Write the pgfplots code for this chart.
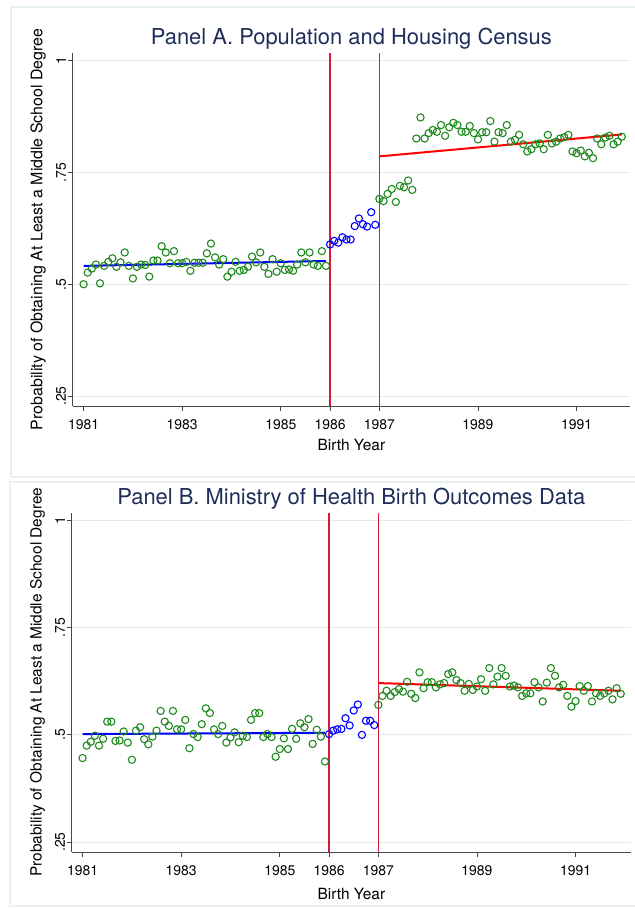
\documentclass[border=0pt]{standalone}
\usepackage{fontspec}
\setmainfont{TeX Gyre Heros}
\setsansfont{TeX Gyre Heros}
\usepackage{pgfplots}
\usepackage{pgfplotstable}
\pgfplotsset{compat=1.18}
\definecolor{sgreen}{RGB}{30,138,30}
\definecolor{vline}{RGB}{215,25,60}
\definecolor{ttl}{RGB}{30,45,90}
\definecolor{gridc}{RGB}{226,236,239}
\definecolor{framec}{RGB}{230,239,242}
\definecolor{axc}{RGB}{70,70,70}

% Panel A data (k = months since Jan 1981)
\pgfplotstableread{
k v
0 0.500
1 0.526
2 0.535
3 0.544
4 0.502
5 0.541
6 0.550
7 0.558
8 0.539
9 0.549
10 0.571
11 0.541
12 0.513
13 0.539
14 0.544
15 0.543
16 0.517
17 0.553
18 0.553
19 0.585
20 0.571
21 0.547
22 0.574
23 0.547
24 0.547
25 0.550
26 0.530
27 0.548
28 0.548
29 0.548
30 0.569
31 0.591
32 0.560
33 0.544
34 0.556
35 0.517
36 0.528
37 0.550
38 0.530
39 0.532
40 0.539
41 0.562
42 0.549
43 0.571
44 0.539
45 0.523
46 0.556
47 0.528
48 0.547
49 0.532
50 0.533
51 0.530
52 0.544
53 0.571
54 0.549
55 0.571
56 0.544
57 0.541
58 0.574
59 0.541
}\Apre
\pgfplotstableread{
k v
60 0.589
61 0.597
62 0.593
63 0.605
64 0.600
65 0.600
66 0.630
67 0.647
68 0.634
69 0.629
70 0.661
71 0.633
}\Amid
\pgfplotstableread{
k v
72 0.691
73 0.686
74 0.702
75 0.713
76 0.684
77 0.720
78 0.717
79 0.732
80 0.711
81 0.826
82 0.873
83 0.826
84 0.838
85 0.845
86 0.841
87 0.856
88 0.832
89 0.851
90 0.861
91 0.856
92 0.841
93 0.841
94 0.854
95 0.838
96 0.824
97 0.840
98 0.840
99 0.865
100 0.819
101 0.840
102 0.838
103 0.856
104 0.819
105 0.823
106 0.834
107 0.813
108 0.797
109 0.802
110 0.813
111 0.815
112 0.802
113 0.834
114 0.815
115 0.819
116 0.826
117 0.829
118 0.834
119 0.797
120 0.793
121 0.799
122 0.786
123 0.794
124 0.782
125 0.826
126 0.813
127 0.828
128 0.832
129 0.813
130 0.819
131 0.830
}\Apost

% Panel B data
\pgfplotstableread{
k v
0 0.446
1 0.475
2 0.484
3 0.498
4 0.475
5 0.491
6 0.531
7 0.531
8 0.486
9 0.487
10 0.508
11 0.482
12 0.442
13 0.510
14 0.518
15 0.490
16 0.478
17 0.496
18 0.510
19 0.556
20 0.531
21 0.521
22 0.556
23 0.513
24 0.513
25 0.535
26 0.469
27 0.502
28 0.495
29 0.525
30 0.562
31 0.551
32 0.513
33 0.502
34 0.521
35 0.482
36 0.494
37 0.506
38 0.483
39 0.498
40 0.495
41 0.535
42 0.551
43 0.551
44 0.495
45 0.502
46 0.495
47 0.449
48 0.467
49 0.492
50 0.467
51 0.514
52 0.491
53 0.527
54 0.518
55 0.537
56 0.479
57 0.512
58 0.496
59 0.438
}\Bpre
\pgfplotstableread{
k v
60 0.502
61 0.510
62 0.513
63 0.514
64 0.539
65 0.522
66 0.557
67 0.571
68 0.500
69 0.533
70 0.533
71 0.523
}\Bmid
\pgfplotstableread{
k v
72 0.570
73 0.591
74 0.603
75 0.591
76 0.600
77 0.607
78 0.601
79 0.624
80 0.596
81 0.586
82 0.646
83 0.609
84 0.623
85 0.623
86 0.611
87 0.618
88 0.621
89 0.642
90 0.646
91 0.628
92 0.621
93 0.603
94 0.619
95 0.605
96 0.613
97 0.630
98 0.603
99 0.656
100 0.618
101 0.636
102 0.656
103 0.638
104 0.613
105 0.615
106 0.611
107 0.591
108 0.597
109 0.597
110 0.623
111 0.611
112 0.578
113 0.622
114 0.656
115 0.638
116 0.611
117 0.617
118 0.591
119 0.566
120 0.579
121 0.614
122 0.603
123 0.614
124 0.578
125 0.597
126 0.591
127 0.597
128 0.603
129 0.583
130 0.609
131 0.596
}\Bpost

\pgfplotsset{
  stata/.style={
    scale only axis,
    axis x line*=bottom, axis y line*=left,
    axis line style={-, axc, line width=0.9bp},
    xtick={0,24,48,60,72,96,120},
    xticklabels={1981,1983,1985,1986,1987,1989,1991},
    ytick={0.25,0.5,0.75,1},
    yticklabels={.25,.5,.75,1},
    tick align=outside,
    major tick length=5bp,
    tick style={axc, line width=0.9bp},
    minor tick num=0,
    ymajorgrids,
    grid style={gridc, line width=0.9bp},
    tick label style={font=\fontsize{14}{16}\selectfont},
    yticklabel style={rotate=90, anchor=south, inner sep=1.5bp},
    xticklabel style={inner sep=2bp, yshift=-6bp},
    xlabel={Birth Year},
    ylabel={Probability of Obtaining At Least a Middle School Degree},
    label style={font=\fontsize{15.5}{17}\selectfont},
    xlabel style={yshift=-4bp},
    ylabel style={yshift=5bp},
    title style={font=\fontsize{22}{24}\selectfont, text=ttl, at={(0.5,1)}, anchor=center, yshift=8bp},
    clip=false,
  },
  greenpt/.style={only marks, mark=o, mark size=3.6bp, sgreen, mark options={line width=1.1bp}},
  bluept/.style={only marks, mark=o, mark size=3.6bp, blue, mark options={line width=1.1bp}},
  vl/.style={color=vline, line width=1.5bp, no marks},
}

\begin{document}
\begin{tikzpicture}
\path[use as bounding box] (0,0) rectangle (635bp,909bp);
\draw[framec, line width=1.2bp] (11bp,432bp) rectangle (640bp,902bp);
\draw[framec, line width=1.2bp] (10bp,3bp) rectangle (640bp,427bp);

% Panel A
\begin{axis}[stata,
  at={(72.7bp,503bp)}, anchor=south west,
  width=557.3bp, height=353.3bp,
  xmin=-2.65, xmax=133.0,
  ymin=0.2276, ymax=1.0179,
  ylabel style={font=\fontsize{16}{18}\selectfont},
  title={Panel A. Population and Housing Census}]
\addplot[vl] coordinates {(60,0.2276) (60,1.0179)};
\addplot[vl] coordinates {(72,0.2276) (72,1.0179)};
\addplot[greenpt] table[x=k,y=v] {\Apre};
\addplot[bluept] table[x=k,y=v] {\Amid};
\addplot[greenpt] table[x=k,y=v] {\Apost};
\addplot[blue, line width=2bp] coordinates {(0,0.541) (59,0.552)};
\addplot[red, line width=2bp] coordinates {(72,0.786) (131,0.835)};
\end{axis}

% Panel B
\begin{axis}[stata,
  at={(71.7bp,57bp)}, anchor=south west,
  width=559.3bp, height=339.3bp,
  xmin=-2.65, xmax=133.5,
  ymin=0.2267, ymax=1.0187,
  xlabel style={yshift=-3bp},
  title={Panel B. Ministry of Health Birth Outcomes Data}]
\addplot[vl] coordinates {(60,0.2267) (60,1.0187)};
\addplot[vl] coordinates {(72,0.2267) (72,1.0187)};
\addplot[greenpt] table[x=k,y=v] {\Bpre};
\addplot[bluept] table[x=k,y=v] {\Bmid};
\addplot[greenpt] table[x=k,y=v] {\Bpost};
\addplot[blue, line width=2bp] coordinates {(0,0.502) (59,0.505)};
\addplot[red, line width=2bp] coordinates {(72,0.621) (131,0.603)};
\end{axis}
\end{tikzpicture}
\end{document}
